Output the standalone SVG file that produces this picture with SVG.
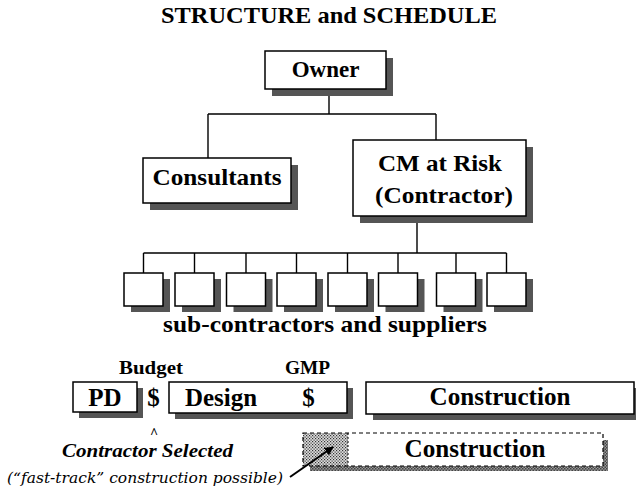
<svg xmlns="http://www.w3.org/2000/svg" width="636" height="502" viewBox="0 0 636 502" font-family="Liberation Serif, serif">
<style>
.bx{fill:#fff;stroke:#000;stroke-width:1.5}
.sh{fill:#555}
.ln{stroke:#000;stroke-width:1.4;fill:none}
.t{font-weight:bold;fill:#000;text-anchor:middle}
</style>
<defs>
<pattern id="stip" width="3" height="3" patternUnits="userSpaceOnUse">
<rect width="3" height="3" fill="#ddd"/>
<rect x="0" y="0" width="1.2" height="1.2" fill="#333"/>
<rect x="1.5" y="1.5" width="1.2" height="1.2" fill="#333"/>
</pattern>
<pattern id="stipd" width="3" height="3" patternUnits="userSpaceOnUse">
<rect width="3" height="3" fill="#999"/>
<rect x="0" y="0" width="1.5" height="1.5" fill="#444"/>
<rect x="1.5" y="1.5" width="1.5" height="1.5" fill="#444"/>
</pattern>
<marker id="ah" viewBox="0 0 10 10" refX="9" refY="5" markerWidth="9" markerHeight="9" markerUnits="userSpaceOnUse" orient="auto">
<path d="M0,0 L10,5 L0,10 z" fill="#000"/>
</marker>
</defs>
<rect width="636" height="502" fill="#fff"/>

<text id="title" class="t" x="329" y="23" font-size="24" textLength="336" lengthAdjust="spacingAndGlyphs">STRUCTURE and SCHEDULE</text>

<g id="connectors">
<path class="ln" d="M329,89 V114 M208,114 H436 M208,114 V158 M436,114 V140"/>
<path class="ln" d="M417,216 V253 M143.5,253 H506.5"/>
<path class="ln" d="M143.5,253 V273 M194.5,253 V273 M246,253 V273 M296.5,253 V273 M347.5,253 V273 M398,253 V273 M456,253 V273 M506.5,253 V273"/>
</g>

<g id="owner">
<rect class="sh" x="272" y="58" width="121" height="38"/>
<rect class="bx" x="265" y="51" width="121" height="38"/>
<text class="t" x="325.5" y="77" font-size="23">Owner</text>
</g>

<g id="consultants">
<rect class="sh" x="150" y="165" width="148" height="45"/>
<rect class="bx" x="143" y="158" width="148" height="45"/>
<text class="t" x="217" y="185" font-size="24" textLength="129" lengthAdjust="spacingAndGlyphs">Consultants</text>
</g>

<g id="cm-at-risk">
<rect class="sh" x="360" y="147" width="173" height="76"/>
<rect class="bx" x="353" y="140" width="173" height="76"/>
<text class="t" x="440" y="171" font-size="24" textLength="124" lengthAdjust="spacingAndGlyphs">CM at Risk</text>
<text class="t" x="444" y="203" font-size="24" textLength="138" lengthAdjust="spacingAndGlyphs">(Contractor)</text>
</g>

<g id="subs">
<g id="sub1"><rect class="sh" x="131" y="279" width="39" height="33"/><rect class="bx" x="124" y="273" width="39" height="33"/></g>
<g id="sub2"><rect class="sh" x="182" y="279" width="39" height="33"/><rect class="bx" x="175" y="273" width="39" height="33"/></g>
<g id="sub3"><rect class="sh" x="233.5" y="279" width="39" height="33"/><rect class="bx" x="226.5" y="273" width="39" height="33"/></g>
<g id="sub4"><rect class="sh" x="284" y="279" width="39" height="33"/><rect class="bx" x="277" y="273" width="39" height="33"/></g>
<g id="sub5"><rect class="sh" x="335" y="279" width="39" height="33"/><rect class="bx" x="328" y="273" width="39" height="33"/></g>
<g id="sub6"><rect class="sh" x="385.5" y="279" width="39" height="33"/><rect class="bx" x="378.5" y="273" width="39" height="33"/></g>
<g id="sub7"><rect class="sh" x="443.5" y="279" width="39" height="33"/><rect class="bx" x="436.5" y="273" width="39" height="33"/></g>
<g id="sub8"><rect class="sh" x="494" y="279" width="39" height="33"/><rect class="bx" x="487" y="273" width="39" height="33"/></g>
<text id="subs-label" class="t" x="325" y="332" font-size="24" textLength="324" lengthAdjust="spacingAndGlyphs">sub-contractors and suppliers</text>
</g>

<g id="budget"><text class="t" x="151" y="374" font-size="19" textLength="64" lengthAdjust="spacingAndGlyphs">Budget</text></g>
<g id="gmp"><text class="t" x="307.5" y="374" font-size="19" textLength="45" lengthAdjust="spacingAndGlyphs">GMP</text></g>

<g id="pd">
<rect class="sh" x="79" y="388" width="64" height="30"/>
<rect class="bx" x="73" y="382" width="64" height="30"/>
<text class="t" x="105" y="406" font-size="25">PD</text>
</g>
<g id="budget-dollar"><text class="t" x="153.5" y="406" font-size="25">$</text></g>

<g id="design">
<rect class="sh" x="175" y="388" width="178" height="31"/>
<rect class="bx" x="169" y="382" width="178" height="31"/>
<text class="t" x="221" y="406" font-size="25" textLength="72" lengthAdjust="spacingAndGlyphs">Design</text>
<text class="t" x="308.5" y="406" font-size="25">$</text>
</g>

<g id="construction">
<rect class="sh" x="373" y="388" width="268" height="32"/>
<rect class="bx" x="366" y="382" width="268" height="32"/>
<text class="t" x="500" y="405" font-size="25" textLength="141" lengthAdjust="spacingAndGlyphs">Construction</text>
</g>

<g id="contractor-selected">
<text class="t" x="154" y="438" font-size="14">^</text>
<text class="t" x="147.5" y="457" font-size="18" font-style="italic" textLength="171" lengthAdjust="spacingAndGlyphs">Contractor Selected</text>
</g>

<g id="construction-fasttrack">
<rect x="310" y="440" width="298" height="31" fill="url(#stipd)"/>
<rect x="303" y="433" width="300" height="33" fill="#fff"/>
<rect x="303" y="433" width="45" height="33" fill="url(#stip)"/>
<rect x="303" y="433" width="300" height="33" fill="none" stroke="#000" stroke-width="1.2" stroke-dasharray="4,3"/>
<line x1="348" y1="433" x2="348" y2="466" stroke="#000" stroke-width="1" stroke-dasharray="2,2"/>
<text class="t" x="475" y="457" font-size="25" textLength="141" lengthAdjust="spacingAndGlyphs">Construction</text>
</g>

<g id="fasttrack-note">
<text x="145" y="483" font-family="DejaVu Serif, serif" font-style="italic" font-size="14.5" text-anchor="middle" fill="#000" textLength="276" lengthAdjust="spacingAndGlyphs">(“fast-track” construction possible)</text>
<line x1="290" y1="477" x2="333" y2="447" stroke="#000" stroke-width="2" marker-end="url(#ah)"/>
</g>
</svg>
